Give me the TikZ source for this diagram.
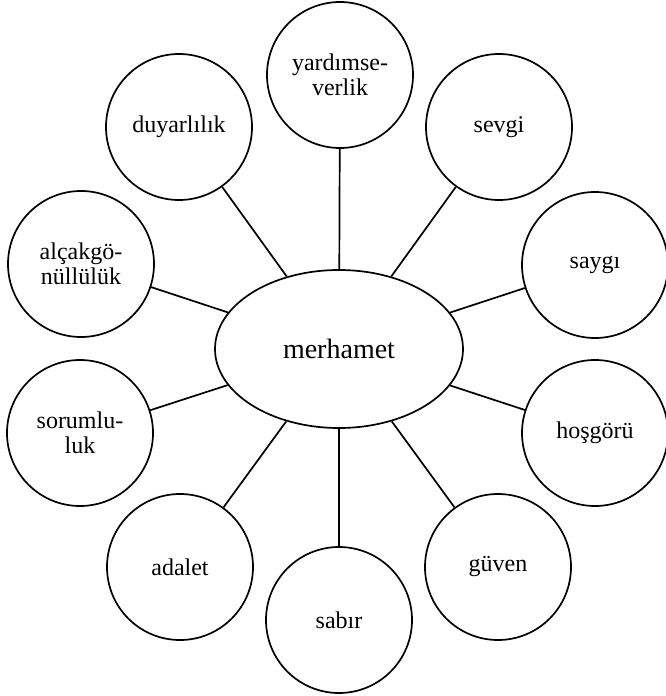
\documentclass[tikz,border=0pt]{standalone}
\usepackage{fontspec}
\setmainfont{Liberation Serif}
\usetikzlibrary{shapes.geometric}
\begin{document}
\begin{tikzpicture}[x=1pt,y=-1pt,
  bubble/.style={draw,line width=1.7pt,circle,minimum size=146pt,inner sep=0pt,align=center,
    font=\fontsize{24}{25}\selectfont},
  hub/.style={draw,line width=1.7pt,ellipse,minimum width=248pt,minimum height=158pt,inner sep=0pt,
    font=\fontsize{28}{30}\selectfont},
  link/.style={line width=1.7pt}]
\useasboundingbox (0,0) rectangle (666,696);
\node[hub] (m) at (339,349) {merhamet};
\node[bubble] (y) at (340,75) {yardımse-\\verlik};
\node[bubble] (sv) at (499,127) {sevgi};
\node[bubble] (sa) at (595,265) {saygı};
\node[bubble] (h) at (595,433) {hoşgörü};
\node[bubble] (g) at (498,567) {güven};
\node[bubble] (sb) at (339,620) {sabır};
\node[bubble] (ad) at (180,567) {adalet};
\node[bubble] (so) at (80,433) {sorumlu-\\luk};
\node[bubble] (al) at (81,264) {alçakgö-\\nüllülük};
\node[bubble] (d) at (179,127) {duyarlılık};
\foreach \n in {y,sv,sa,h,g,sb,ad,so,al,d}
  \draw[link] (m) -- (\n);
\end{tikzpicture}
\end{document}
